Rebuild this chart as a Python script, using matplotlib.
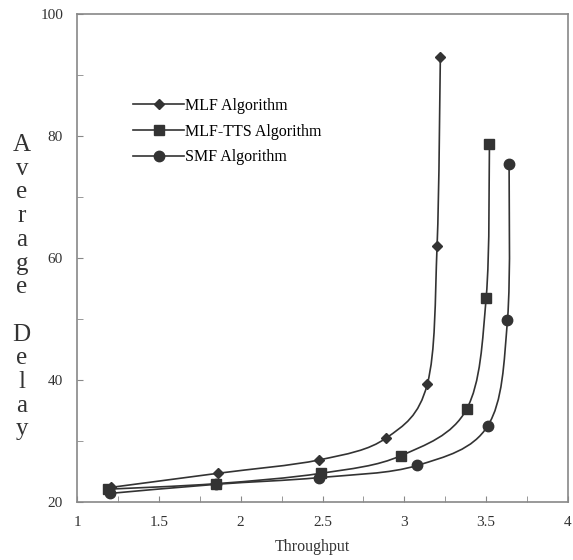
import matplotlib.pyplot as plt
from matplotlib.path import Path
from matplotlib.patches import PathPatch
from matplotlib.lines import Line2D
from matplotlib.ticker import MultipleLocator

plt.rcParams['font.family'] = ['Liberation Serif', 'DejaVu Serif']

# Daten
mlf_x = [1.21, 1.86, 2.48, 2.89, 3.14, 3.20, 3.22]
mlf_y = [22.4, 24.7, 26.9, 30.5, 39.3, 62.0, 93.0]
tts_x = [1.19, 1.85, 2.49, 2.98, 3.38, 3.50, 3.52]
tts_y = [22.1, 23.0, 24.7, 27.6, 35.2, 53.5, 78.7]
smf_x = [1.20, 1.85, 2.48, 3.08, 3.51, 3.63, 3.64]
smf_y = [21.4, 22.9, 24.0, 26.0, 32.5, 49.8, 75.4]

labels = ['MLF Algorithm', 'MLF-TTS Algorithm', 'SMF Algorithm']
markers = ['D', 's', 'o']
msizes = [5.5, 7, 7.5]
col = '#333333'


def smooth_path(xs, ys):
    # Bezier-Glättung wie in Excel (Catmull-Rom)
    pts = list(zip(xs, ys))
    n = len(pts)
    verts = [pts[0]]
    codes = [Path.MOVETO]
    for i in range(n - 1):
        p0 = pts[i - 1] if i > 0 else pts[i]
        p1 = pts[i]
        p2 = pts[i + 1]
        p3 = pts[i + 2] if i + 2 < n else pts[i + 1]
        c1 = (p1[0] + (p2[0] - p0[0]) / 6, p1[1] + (p2[1] - p0[1]) / 6)
        c2 = (p2[0] - (p3[0] - p1[0]) / 6, p2[1] - (p3[1] - p1[1]) / 6)
        verts += [c1, c2, p2]
        codes += [Path.CURVE4] * 3
    return Path(verts, codes)


fig = plt.figure(figsize=(5.73, 5.6), dpi=100)
ax = fig.add_axes([0.1344, 0.1036, 0.8569, 0.8714])

handles = []
for xs, ys, lab, m, ms in zip([mlf_x, tts_x, smf_x], [mlf_y, tts_y, smf_y],
                              labels, markers, msizes):
    ax.add_patch(PathPatch(smooth_path(xs, ys), fill=False, edgecolor=col, lw=1.2))
    ax.plot(xs, ys, ls='none', marker=m, ms=ms, color=col)
    handles.append(Line2D([], [], color=col, lw=1.2, marker=m, ms=ms, label=lab))

ax.set_xlim(1, 4)
ax.set_ylim(20, 100)
ax.xaxis.set_major_locator(MultipleLocator(0.5))
ax.xaxis.set_minor_locator(MultipleLocator(0.25))
ax.yaxis.set_major_locator(MultipleLocator(20))
ax.yaxis.set_minor_locator(MultipleLocator(10))
ax.set_xticks([1, 1.5, 2, 2.5, 3, 3.5, 4])
ax.set_xticklabels(['1', '1.5', '2', '2.5', '3', '3.5', '4'])
ax.tick_params(which='both', direction='in', length=4, color='#888888',
               labelsize=11, labelcolor='#333333', pad=10)
for s in ax.spines.values():
    s.set_color('#888888')
    s.set_linewidth(1.2)

ax.set_xlabel('Throughput', fontsize=11.5, color='#333333')
ax.xaxis.set_label_coords(0.479, -0.075)
fig.text(0.038, 0.487, '\n'.join('Average') + '\n\n' + '\n'.join('Delay'),
         fontsize=18, color='#333333', ha='center', va='center', linespacing=1.1)

ax.legend(handles=handles, loc='upper left', bbox_to_anchor=(0.085, 0.858),
          frameon=False, fontsize=11.5, handlelength=3.2, handletextpad=0.05,
          labelspacing=0.62)

plt.savefig('out.png', dpi=100)
